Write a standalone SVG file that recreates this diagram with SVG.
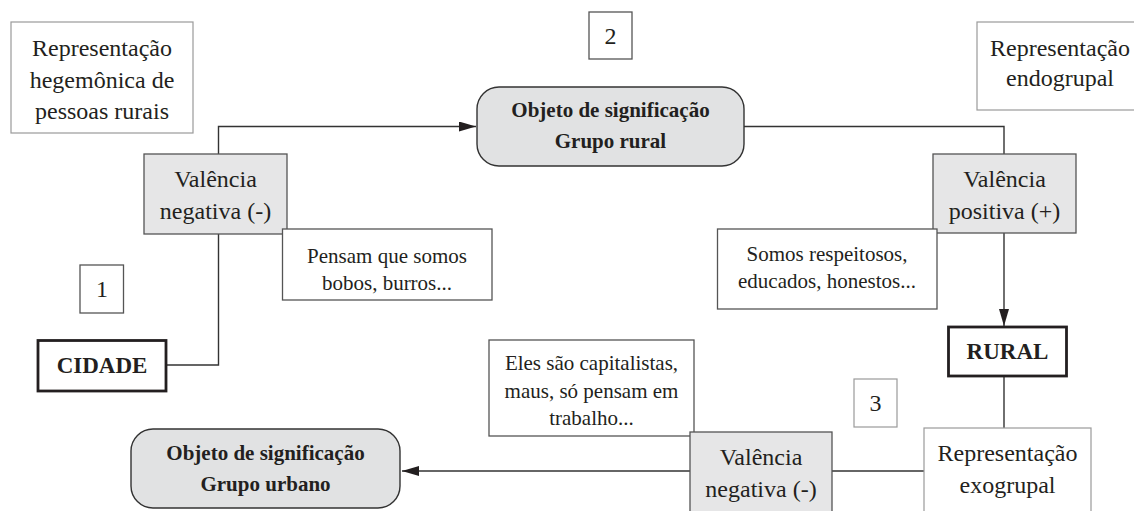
<svg xmlns="http://www.w3.org/2000/svg" width="1134" height="511" viewBox="0 0 1134 511">
<style>
text{fill:#231f20;text-anchor:middle}
.t23{font-size:24px}
.t21{font-size:21px}
.b20{font-size:21px;font-weight:bold}
.b23{font-size:23px;font-weight:bold}
.lite{fill:#fff;stroke:#9a9a9a;stroke-width:1.2}
.plain{fill:#fff;stroke:#555;stroke-width:1.3}
.gray{fill:#e6e6e7;stroke:#555;stroke-width:1.3}
.obj{fill:#e1e2e3;stroke:#333;stroke-width:1.4}
.thick{fill:#fff;stroke:#231f20;stroke-width:2.8}
.conn{fill:none;stroke:#333;stroke-width:1.4}
</style>
<defs>
<marker id="arr" markerUnits="userSpaceOnUse" markerWidth="17" markerHeight="10" refX="17" refY="5" orient="auto">
<path d="M0,0 L17,5 L0,10 z" fill="#231f20"/>
</marker>
</defs>
<g id="connectors">
<path class="conn" d="M166 365 H218.5 V234"/>
<path class="conn" d="M218.5 154 V126.5 H476" marker-end="url(#arr)"/>
<path class="conn" d="M744 126.5 H1004 V154"/>
<path class="conn" d="M1004 233 V326" marker-end="url(#arr)"/>
<path class="conn" d="M1004 376 V428"/>
<path class="conn" d="M924 471 H832"/>
<path class="conn" d="M690 471 H402" marker-end="url(#arr)"/>
</g>
<g font-family="Liberation Serif, Times New Roman, serif">
<g id="rep-hegemonica">
<rect class="lite" x="11" y="22" width="182" height="111"/>
<text class="t23" x="102" y="56">Representação</text>
<text class="t23" x="102" y="88">hegemônica de</text>
<text class="t23" x="102" y="119">pessoas rurais</text>
</g>
<g id="num2">
<rect class="plain" x="589" y="12" width="43" height="47"/>
<text class="t23" x="610.5" y="44">2</text>
</g>
<g id="obj-rural">
<rect class="obj" x="477" y="87" width="267" height="79" rx="22"/>
<text class="b20" x="610.5" y="117">Objeto de significação</text>
<text class="b20" x="610.5" y="148">Grupo rural</text>
</g>
<g id="rep-endogrupal">
<rect class="lite" x="977" y="22" width="170" height="88"/>
<text class="t23" x="1060" y="56">Representação</text>
<text class="t23" x="1060" y="86">endogrupal</text>
</g>
<g id="valencia-neg-1">
<rect class="gray" x="144" y="154" width="143" height="80"/>
<text class="t23" x="215.5" y="187">Valência</text>
<text class="t23" x="215.5" y="219">negativa (-)</text>
</g>
<g id="valencia-pos">
<rect class="gray" x="933" y="154" width="143" height="79"/>
<text class="t23" x="1004.5" y="187">Valência</text>
<text class="t23" x="1004.5" y="219">positiva (+)</text>
</g>
<g id="pensam">
<rect class="plain" x="282.5" y="229" width="209.5" height="71"/>
<text class="t21" x="387" y="263">Pensam que somos</text>
<text class="t21" x="387" y="290">bobos, burros...</text>
</g>
<g id="somos">
<rect class="plain" x="717.5" y="229" width="219.5" height="80"/>
<text class="t21" x="827" y="261">Somos respeitosos,</text>
<text class="t21" x="827" y="288">educados, honestos...</text>
</g>
<g id="num1">
<rect class="plain" x="80" y="265" width="43.5" height="48"/>
<text class="t23" x="102" y="297">1</text>
</g>
<g id="cidade">
<rect class="thick" x="38" y="340.5" width="128" height="50.5"/>
<text class="b23" x="102" y="373">CIDADE</text>
</g>
<g id="rural">
<rect class="thick" x="948.5" y="327" width="118" height="49"/>
<text class="b23" x="1007.5" y="359">RURAL</text>
</g>
<g id="eles">
<rect class="plain" x="489" y="340" width="205" height="96"/>
<text class="t21" x="591.5" y="370">Eles são capitalistas,</text>
<text class="t21" x="591.5" y="398">maus, só pensam em</text>
<text class="t21" x="591.5" y="425">trabalho...</text>
</g>
<g id="num3">
<rect class="lite" x="854" y="379" width="43" height="48"/>
<text class="t23" x="875.5" y="411">3</text>
</g>
<g id="obj-urbano">
<rect class="obj" x="131" y="429" width="269" height="79" rx="22"/>
<text class="b20" x="265.5" y="460">Objeto de significação</text>
<text class="b20" x="265.5" y="491">Grupo urbano</text>
</g>
<g id="valencia-neg-3">
<rect class="gray" x="690" y="432" width="142" height="90"/>
<text class="t23" x="761" y="465">Valência</text>
<text class="t23" x="761" y="497">negativa (-)</text>
</g>
<g id="rep-exogrupal">
<rect class="lite" x="924" y="428" width="167" height="95"/>
<text class="t23" x="1007.5" y="461">Representação</text>
<text class="t23" x="1007.5" y="493">exogrupal</text>
</g>
</g>
</svg>
